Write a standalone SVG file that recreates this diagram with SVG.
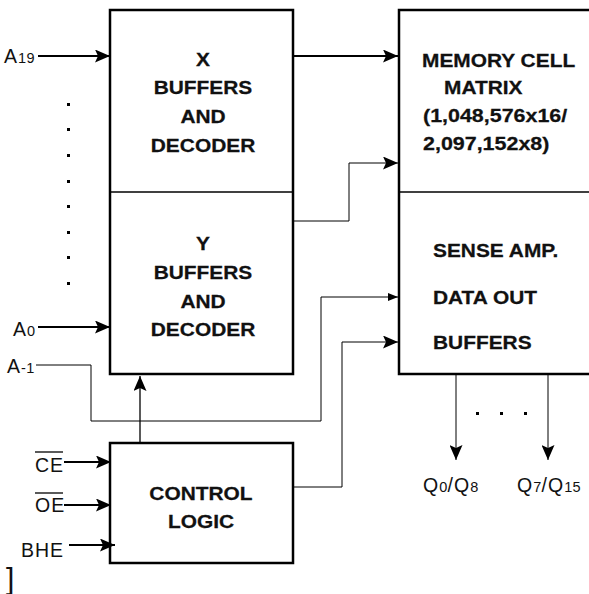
<svg xmlns="http://www.w3.org/2000/svg" width="589" height="594" viewBox="0 0 589 594">
<style>
.box{fill:#fff;stroke:#000;stroke-width:2.5}
.div{stroke:#000;stroke-width:1.5;fill:none}
.w{fill:none;stroke:#000;stroke-width:2}
.t{fill:none;stroke:#000;stroke-width:1}
.b{font-family:"Liberation Sans",Arial,sans-serif;font-weight:bold;font-size:18.5px;fill:#111;stroke:#111;stroke-width:0.25}
.m{text-anchor:middle}
.l{font-family:"Liberation Sans",Arial,sans-serif;font-size:19.5px;letter-spacing:1px;fill:#111}
.s{font-size:14.5px;letter-spacing:0.3px}
.dot{fill:#000}
</style>
<defs>
<marker id="ah" markerUnits="userSpaceOnUse" markerWidth="16" markerHeight="13" refX="15" refY="6.5" orient="auto"><path d="M0,0 L15,6.5 L0,13 L3,6.5 Z" fill="#000"/></marker>
<marker id="ahs" markerUnits="userSpaceOnUse" markerWidth="11" markerHeight="8" refX="10" refY="4" orient="auto"><path d="M0,0 L10,4 L0,8 Z" fill="#000"/></marker>
</defs>
<rect width="589" height="594" fill="#fff"/>
<g id="xy-decoder">
<rect class="box" x="110" y="10" width="183" height="364"/>
<line class="div" x1="110" y1="192" x2="293" y2="192"/>
<text class="b m" transform="translate(203 66) scale(1.13 1)">X</text>
<text class="b m" transform="translate(203 94) scale(1.13 1)">BUFFERS</text>
<text class="b m" transform="translate(203 123) scale(1.13 1)">AND</text>
<text class="b m" transform="translate(203 152) scale(1.13 1)">DECODER</text>
<text class="b m" transform="translate(203 250) scale(1.13 1)">Y</text>
<text class="b m" transform="translate(203 279) scale(1.13 1)">BUFFERS</text>
<text class="b m" transform="translate(203 308) scale(1.13 1)">AND</text>
<text class="b m" transform="translate(203 336) scale(1.13 1)">DECODER</text>
</g>
<g id="memory">
<rect class="box" x="399" y="10" width="200" height="364"/>
<line class="div" x1="399" y1="192" x2="589" y2="192"/>
<text class="b" transform="translate(422 67) scale(1.13 1)">MEMORY CELL</text>
<text class="b" transform="translate(444 94) scale(1.13 1)">MATRIX</text>
<text class="b" transform="translate(423 122) scale(1.16 1)">(1,048,576x16/</text>
<text class="b" transform="translate(423 150) scale(1.16 1)">2,097,152x8)</text>
<text class="b" transform="translate(433 257) scale(1.13 1)">SENSE AMP.</text>
<text class="b" transform="translate(433 304) scale(1.13 1)">DATA OUT</text>
<text class="b" transform="translate(433 349) scale(1.13 1)">BUFFERS</text>
</g>
<g id="control">
<rect class="box" x="110" y="443" width="183" height="120"/>
<text class="b m" transform="translate(201 500) scale(1.13 1)">CONTROL</text>
<text class="b m" transform="translate(201 528) scale(1.13 1)">LOGIC</text>
</g>
<g id="labels">
<text class="l" x="4" y="63">A<tspan class="s">19</tspan></text>
<text class="l" x="13" y="336">A<tspan class="s">0</tspan></text>
<text class="l" x="7" y="373">A<tspan class="s">-1</tspan></text>
<text class="l" x="35" y="472">CE</text>
<line x1="35" y1="452" x2="63" y2="452" stroke="#000" stroke-width="1.3"/>
<text class="l" x="35" y="512">OE</text>
<line x1="35" y1="493" x2="63" y2="493" stroke="#000" stroke-width="1.3"/>
<text class="l" x="21" y="557">BHE</text>
<text class="l" x="423" y="492">Q<tspan class="s">0</tspan>/Q<tspan class="s">8</tspan></text>
<text class="l" x="517" y="492">Q<tspan class="s">7</tspan>/Q<tspan class="s">15</tspan></text>
<text x="6" y="589" font-family="Liberation Sans,Arial,sans-serif" font-size="30" font-weight="200" fill="#111">]</text>
<g class="dot">
<rect x="67" y="103" width="3" height="3"/>
<rect x="67" y="128" width="3" height="3"/>
<rect x="67" y="154" width="3" height="3"/>
<rect x="67" y="180" width="3" height="3"/>
<rect x="67" y="205" width="3" height="3"/>
<rect x="67" y="231" width="3" height="3"/>
<rect x="67" y="256" width="3" height="3"/>
<rect x="67" y="282" width="3" height="3"/>
<rect x="476" y="412" width="3" height="3"/>
<rect x="500" y="412" width="3" height="3"/>
<rect x="524" y="412" width="3" height="3"/>
</g>
</g>
<g id="connectors">
<line class="w" x1="38" y1="56" x2="110" y2="56" marker-end="url(#ah)"/>
<line class="w" x1="293" y1="56" x2="398" y2="56" marker-end="url(#ah)"/>
<polyline class="t" points="293,221 349,221 349,163 398,163" marker-end="url(#ah)"/>
<line class="w" x1="38" y1="327" x2="110" y2="327" marker-end="url(#ah)"/>
<polyline class="t" points="36,365 91,365 91,421 321,421 321,297 398,297" marker-end="url(#ahs)"/>
<line x1="140" y1="443" x2="140" y2="376" stroke="#000" stroke-width="1.3" marker-end="url(#ah)"/>
<polyline class="t" points="293,487 342,487 342,342 398,342" marker-end="url(#ah)"/>
<line class="w" x1="64" y1="462" x2="111" y2="462" marker-end="url(#ah)"/>
<line class="w" x1="64" y1="505" x2="111" y2="505" marker-end="url(#ah)"/>
<line class="w" x1="69" y1="545" x2="115" y2="545" marker-end="url(#ah)"/>
<line class="t" x1="456" y1="374" x2="456" y2="460" marker-end="url(#ah)"/>
<line class="t" x1="548" y1="374" x2="548" y2="460" marker-end="url(#ah)"/>
</g>
</svg>
